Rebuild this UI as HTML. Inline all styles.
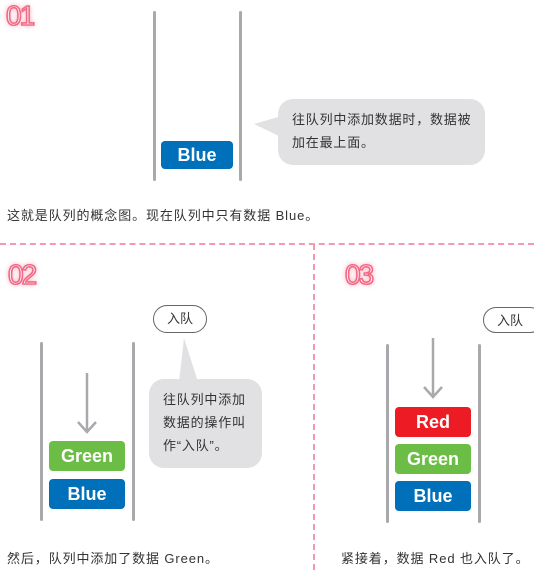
<!DOCTYPE html>
<html><head><meta charset="utf-8"><style>
body{margin:0;width:534px;height:570px;background:#fff;position:relative;overflow:hidden;font-family:"Liberation Sans","Noto Sans CJK SC",sans-serif;color:#333}
.a{position:absolute}
.wall{position:absolute;width:3px;background:#a9a9ad;border-radius:2px}
.box{position:absolute;color:#fff;font-weight:bold;font-size:18px;text-align:center;border-radius:4px;width:76px;height:30px;line-height:31px}
.blue{background:#0070bb}.green{background:#6cbd45}.red{background:#ed1c24}
.num{position:absolute;font-size:28px;font-weight:normal;color:#fff;-webkit-text-stroke:1.6px #f06a85;text-shadow:0 0 4px #f7a0b4,0 0 7px #fcc7d3;letter-spacing:-2px}
.cap{position:absolute;font-size:13px;white-space:nowrap;letter-spacing:0.9px}
.bub{position:absolute;background:#e1e1e3;border-radius:15px;font-size:13px;line-height:23px;letter-spacing:0.8px}
.pill{position:absolute;border:1.5px solid #666;border-radius:14px;font-size:13px;text-align:center;line-height:26px;background:#fff}
</style></head><body>
<div class="num" style="left:6px;top:0px">01</div>
<div class="wall" style="left:153px;top:11px;height:170px"></div>
<div class="wall" style="left:239px;top:11px;height:170px"></div>
<div class="box blue" style="left:161px;top:141px;width:72px;height:28px;line-height:29px">Blue</div>
<svg class="a" style="left:250px;top:115px" width="40" height="30"><polygon points="4,9 35,0 35,24" fill="#e1e1e3"/></svg>
<div class="bub" style="left:278px;top:99px;width:207px;height:66px"><div style="position:absolute;left:14px;top:9px;white-space:nowrap">往队列中添加数据时，数据被<br>加在最上面。</div></div>
<div class="cap" style="left:7px;top:205px">这就是队列的概念图。现在队列中只有数据 Blue。</div>
<div class="a" style="left:0;top:243px;width:534px;border-top:2px dashed #f39ab0"></div>
<div class="a" style="left:313px;top:244px;height:326px;border-left:2px dashed #f39ab0"></div>

<div class="num" style="left:8px;top:259px">02</div>
<div class="wall" style="left:40px;top:342px;height:179px"></div>
<div class="wall" style="left:132px;top:342px;height:179px"></div>
<svg class="a" style="left:76px;top:372px" width="24" height="64"><line x1="11" y1="1" x2="11" y2="60" stroke="#a9a9ad" stroke-width="2.5"/><polyline points="2,50 11,60 20,50" fill="none" stroke="#a9a9ad" stroke-width="2.5"/></svg>
<div class="box green" style="left:49px;top:441px">Green</div>
<div class="box blue" style="left:49px;top:479px">Blue</div>
<div class="pill" style="left:153px;top:305px;width:52px;height:26px">入队</div>
<svg class="a" style="left:175px;top:338px" width="30" height="45"><polygon points="9,0 4,44 23,44" fill="#e1e1e3"/></svg>
<div class="bub" style="left:149px;top:379px;width:113px;height:89px"><div style="position:absolute;left:14px;top:9px;white-space:nowrap">往队列中添加<br>数据的操作叫<br>作“入队”。</div></div>
<div class="cap" style="left:7px;top:548px">然后，队列中添加了数据 Green。</div>

<div class="num" style="left:345px;top:259px">03</div>
<div class="wall" style="left:386px;top:344px;height:179px"></div>
<div class="wall" style="left:478px;top:344px;height:179px"></div>
<svg class="a" style="left:422px;top:337px" width="24" height="64"><line x1="11" y1="1" x2="11" y2="60" stroke="#a9a9ad" stroke-width="2.5"/><polyline points="2,50 11,60 20,50" fill="none" stroke="#a9a9ad" stroke-width="2.5"/></svg>
<div class="box red" style="left:395px;top:407px">Red</div>
<div class="box green" style="left:395px;top:444px">Green</div>
<div class="box blue" style="left:395px;top:481px">Blue</div>
<div class="pill" style="left:483px;top:307px;width:60px;height:26px;text-align:left;padding-left:13px;box-sizing:border-box">入队</div>
<div class="cap" style="left:341px;top:548px">紧接着，数据 Red 也入队了。</div>
</body></html>
